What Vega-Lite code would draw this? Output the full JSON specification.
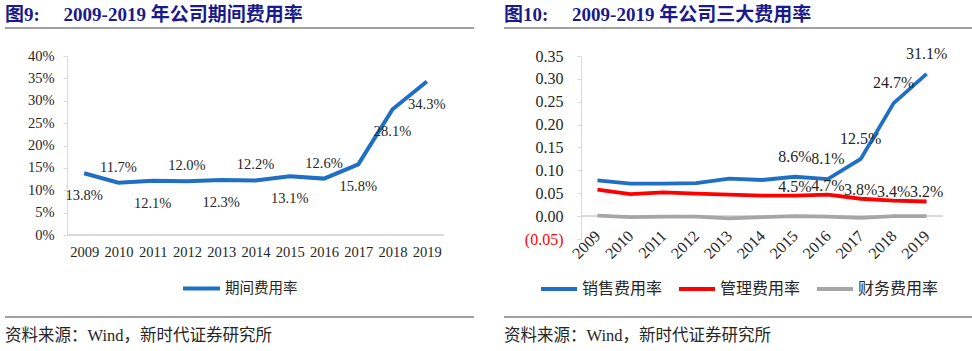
{
  "$schema": "https://vega.github.io/schema/vega-lite/v6.json",
  "padding": {"left": 4, "top": 6, "right": 0, "bottom": 0},
  "background": "white",
  "config": {
    "view": {"stroke": null},
    "font": "Liberation Serif, Noto Sans CJK SC",
    "axis": {"labelFont": "Liberation Serif, Noto Sans CJK SC", "labelColor": "#262626", "grid": false, "domainColor": "#d9d9d9", "tickColor": "#d9d9d9", "title": null, "labelOverlap": false, "labelFlush": false},
    "legend": {"labelFont": "Liberation Serif, Noto Sans CJK SC", "labelColor": "#262626", "layout": {"bottom": {"anchor": "middle"}}},
    "title": {"font": "Liberation Serif, Noto Sans CJK SC"}
  },
  "datasets": {
    "left": [
      {"year": 2009, "rate": 0.138},
      {"year": 2010, "rate": 0.117},
      {"year": 2011, "rate": 0.121},
      {"year": 2012, "rate": 0.120},
      {"year": 2013, "rate": 0.123},
      {"year": 2014, "rate": 0.122},
      {"year": 2015, "rate": 0.131},
      {"year": 2016, "rate": 0.126},
      {"year": 2017, "rate": 0.158},
      {"year": 2018, "rate": 0.281},
      {"year": 2019, "rate": 0.343}
    ],
    "right": [
      {"year": 2009, "type": "销售费用率", "value": 0.078},
      {"year": 2010, "type": "销售费用率", "value": 0.071},
      {"year": 2011, "type": "销售费用率", "value": 0.071},
      {"year": 2012, "type": "销售费用率", "value": 0.072},
      {"year": 2013, "type": "销售费用率", "value": 0.082},
      {"year": 2014, "type": "销售费用率", "value": 0.079},
      {"year": 2015, "type": "销售费用率", "value": 0.086},
      {"year": 2016, "type": "销售费用率", "value": 0.081},
      {"year": 2017, "type": "销售费用率", "value": 0.125},
      {"year": 2018, "type": "销售费用率", "value": 0.247},
      {"year": 2019, "type": "销售费用率", "value": 0.311},
      {"year": 2009, "type": "管理费用率", "value": 0.058},
      {"year": 2010, "type": "管理费用率", "value": 0.048},
      {"year": 2011, "type": "管理费用率", "value": 0.052},
      {"year": 2012, "type": "管理费用率", "value": 0.049},
      {"year": 2013, "type": "管理费用率", "value": 0.047},
      {"year": 2014, "type": "管理费用率", "value": 0.045},
      {"year": 2015, "type": "管理费用率", "value": 0.045},
      {"year": 2016, "type": "管理费用率", "value": 0.047},
      {"year": 2017, "type": "管理费用率", "value": 0.038},
      {"year": 2018, "type": "管理费用率", "value": 0.034},
      {"year": 2019, "type": "管理费用率", "value": 0.032},
      {"year": 2009, "type": "财务费用率", "value": 0.001},
      {"year": 2010, "type": "财务费用率", "value": -0.002},
      {"year": 2011, "type": "财务费用率", "value": -0.001},
      {"year": 2012, "type": "财务费用率", "value": -0.001},
      {"year": 2013, "type": "财务费用率", "value": -0.005},
      {"year": 2014, "type": "财务费用率", "value": -0.002},
      {"year": 2015, "type": "财务费用率", "value": 0.0},
      {"year": 2016, "type": "财务费用率", "value": -0.001},
      {"year": 2017, "type": "财务费用率", "value": -0.004},
      {"year": 2018, "type": "财务费用率", "value": 0.0},
      {"year": 2019, "type": "财务费用率", "value": 0.0}
    ],
    "edge": [{"pos": 0}]
  },
  "spacing": 28,
  "resolve": {"scale": {"color": "independent"}, "legend": {"color": "independent"}},
  "hconcat": [
    {
      "spacing": 19,
      "resolve": {"scale": {"color": "independent"}, "legend": {"color": "independent"}},
      "vconcat": [
        {
          "width": 469, "height": 2,
          "title": {"text": "图9:\u3000\u00a02009-2019 年公司期间费用率", "anchor": "start", "frame": "group", "fontSize": 19, "fontWeight": "bold", "color": "#1a1a8c", "offset": 1},
          "data": {"name": "edge"},
          "mark": {"type": "rule", "color": "#808080", "strokeWidth": 1.6},
          "encoding": {"y": {"field": "pos", "type": "quantitative", "scale": {"domain": [0, 1]}, "axis": null}}
        },
        {
          "width": 469, "height": 179,
          "data": {"name": "left"},
          "encoding": {
            "x": {"field": "year", "type": "quantitative", "scale": {"domain": [2006.691, 2020.376], "nice": false, "zero": false}, "axis": {"values": [2009, 2010, 2011, 2012, 2013, 2014, 2015, 2016, 2017, 2018, 2019], "tickCount": 20, "format": "d", "labelAngle": 0, "ticks": false, "domain": false, "labelPadding": 10, "labelFontSize": 14.5, "labelOverlap": false, "labelFlush": false}}
          },
          "layer": [
            {
              "mark": {"type": "rule", "color": "#d9d9d9", "strokeWidth": 1},
              "encoding": {
                "x": {"datum": 2008.5, "type": "quantitative"}, "x2": {"datum": 2019.5},
                "y": {"datum": 0, "type": "quantitative", "scale": {"domain": [0, 0.4], "nice": false}, "axis": {"format": ".0%", "values": [0, 0.05, 0.1, 0.15, 0.2, 0.25, 0.3, 0.35, 0.4], "tickCount": 20, "tickSize": 4, "labelPadding": 9, "labelFontSize": 14.5, "offset": -62, "labelOverlap": false}}
              }
            },
            {
              "mark": {"type": "line", "strokeWidth": 4},
              "encoding": {
                "y": {"field": "rate", "type": "quantitative", "scale": {"domain": [0, 0.4], "nice": false}, "axis": {"format": ".0%", "values": [0, 0.05, 0.1, 0.15, 0.2, 0.25, 0.3, 0.35, 0.4], "tickCount": 20, "tickSize": 4, "labelPadding": 9, "labelFontSize": 14.5, "offset": -62, "labelOverlap": false}},
                "color": {"datum": "期间费用率", "type": "nominal", "scale": {"domain": ["期间费用率"], "range": ["#1f6fc5"]}, "legend": {"orient": "bottom", "direction": "horizontal", "title": null, "symbolType": "stroke", "symbolSize": 1369, "symbolStrokeWidth": 4, "labelFontSize": 14.5, "labelOffset": 3, "offset": 9}}
              }
            },
            {
              "transform": [{"filter": {"not": {"field": "year", "oneOf": [2010, 2012, 2014, 2016]}}}],
              "mark": {"type": "text", "dy": 23, "baseline": "middle", "fontSize": 14.5, "color": "#262626"},
              "encoding": {"y": {"field": "rate", "type": "quantitative"}, "text": {"field": "rate", "type": "quantitative", "format": ".1%"}}
            },
            {
              "transform": [{"filter": {"field": "year", "oneOf": [2010, 2012, 2014, 2016]}}],
              "mark": {"type": "text", "dy": -15, "baseline": "middle", "fontSize": 14.5, "color": "#262626"},
              "encoding": {"y": {"field": "rate", "type": "quantitative"}, "text": {"field": "rate", "type": "quantitative", "format": ".1%"}}
            }
          ]
        },
        {
          "width": 469, "height": 1,
          "title": {"text": "资料来源：Wind，新时代证券研究所", "orient": "bottom", "anchor": "start", "frame": "group", "fontSize": 16.5, "fontWeight": "normal", "color": "#262626", "offset": 10},
          "data": {"name": "edge"},
          "mark": {"type": "rule", "color": "#808080", "strokeWidth": 1.6},
          "encoding": {"y": {"field": "pos", "type": "quantitative", "scale": {"domain": [0, 1]}, "axis": null}}
        }
      ]
    },
    {
      "spacing": 16,
      "resolve": {"scale": {"color": "independent"}, "legend": {"color": "independent"}},
      "vconcat": [
        {
          "width": 470, "height": 2,
          "title": {"text": "图10:\u3000\u00a02009-2019 年公司三大费用率", "anchor": "start", "frame": "group", "fontSize": 19, "fontWeight": "bold", "color": "#1a1a8c", "offset": 1},
          "data": {"name": "edge"},
          "mark": {"type": "rule", "color": "#808080", "strokeWidth": 1.6},
          "encoding": {"y": {"field": "pos", "type": "quantitative", "scale": {"domain": [0, 1]}, "axis": null}}
        },
        {
          "width": 470, "height": 183,
          "data": {"name": "right"},
          "encoding": {
            "x": {"field": "year", "type": "quantitative", "scale": {"domain": [2006.16, 2020.441], "nice": false, "zero": false}, "axis": {"values": [2009, 2010, 2011, 2012, 2013, 2014, 2015, 2016, 2017, 2018, 2019], "tickCount": 20, "format": "d", "labelAngle": -45, "labelAlign": "right", "labelBaseline": "middle", "ticks": false, "domain": false, "labelPadding": 17, "labelFontSize": 16, "offset": -23, "labelOverlap": false, "labelFlush": false}}
          },
          "layer": [
            {
              "mark": {"type": "rule", "color": "#d9d9d9", "strokeWidth": 1},
              "encoding": {
                "x": {"datum": 2008.5, "type": "quantitative"}, "x2": {"datum": 2019.5},
                "y": {"datum": 0, "type": "quantitative", "scale": {"domain": [-0.05, 0.35], "nice": false}, "axis": {"values": [-0.05, 0, 0.05, 0.1, 0.15, 0.2, 0.25, 0.3, 0.35], "tickCount": 20, "labelExpr": "datum.value < 0 ? '(' + format(-datum.value, '.2f') + ')' : format(datum.value, '.2f')", "labelColor": {"condition": {"test": "datum.value < 0", "value": "#ff0000"}, "value": "#262626"}, "tickSize": 4, "labelPadding": 14, "labelFontSize": 16, "offset": -77, "labelOverlap": false}}
              }
            },
            {
              "mark": {"type": "line", "strokeWidth": 3.8},
              "encoding": {
                "y": {"field": "value", "type": "quantitative", "scale": {"domain": [-0.05, 0.35], "nice": false}, "axis": {"values": [-0.05, 0, 0.05, 0.1, 0.15, 0.2, 0.25, 0.3, 0.35], "tickCount": 20, "labelExpr": "datum.value < 0 ? '(' + format(-datum.value, '.2f') + ')' : format(datum.value, '.2f')", "labelColor": {"condition": {"test": "datum.value < 0", "value": "#ff0000"}, "value": "#262626"}, "tickSize": 4, "labelPadding": 14, "labelFontSize": 16, "offset": -77, "labelOverlap": false}},
                "color": {"field": "type", "type": "nominal", "scale": {"domain": ["销售费用率", "管理费用率", "财务费用率"], "range": ["#1f6fc5", "#ff0000", "#a6a6a6"]}, "legend": {"orient": "bottom", "direction": "horizontal", "title": null, "symbolType": "stroke", "symbolSize": 1296, "symbolStrokeWidth": 4, "labelFontSize": 16, "labelOffset": 3, "columnPadding": 8, "offset": 7}}
              }
            },
            {
              "transform": [{"filter": "datum.type === '销售费用率' && datum.year >= 2015"}],
              "mark": {"type": "text", "dy": -20, "baseline": "middle", "fontSize": 16, "color": "#262626"},
              "encoding": {"y": {"field": "value", "type": "quantitative"}, "text": {"field": "value", "type": "quantitative", "format": ".1%"}}
            },
            {
              "transform": [{"filter": "datum.type === '管理费用率' && datum.year >= 2015"}],
              "mark": {"type": "text", "dy": -9, "baseline": "middle", "fontSize": 16, "color": "#262626"},
              "encoding": {"y": {"field": "value", "type": "quantitative"}, "text": {"field": "value", "type": "quantitative", "format": ".1%"}}
            }
          ]
        },
        {
          "width": 470, "height": 4,
          "title": {"text": "资料来源：Wind，新时代证券研究所", "orient": "bottom", "anchor": "start", "frame": "group", "fontSize": 16.5, "fontWeight": "normal", "color": "#262626", "offset": 10},
          "data": {"name": "edge"},
          "mark": {"type": "rule", "color": "#808080", "strokeWidth": 1.6},
          "encoding": {"y": {"field": "pos", "type": "quantitative", "scale": {"domain": [0, 1]}, "axis": null}}
        }
      ]
    }
  ]
}
